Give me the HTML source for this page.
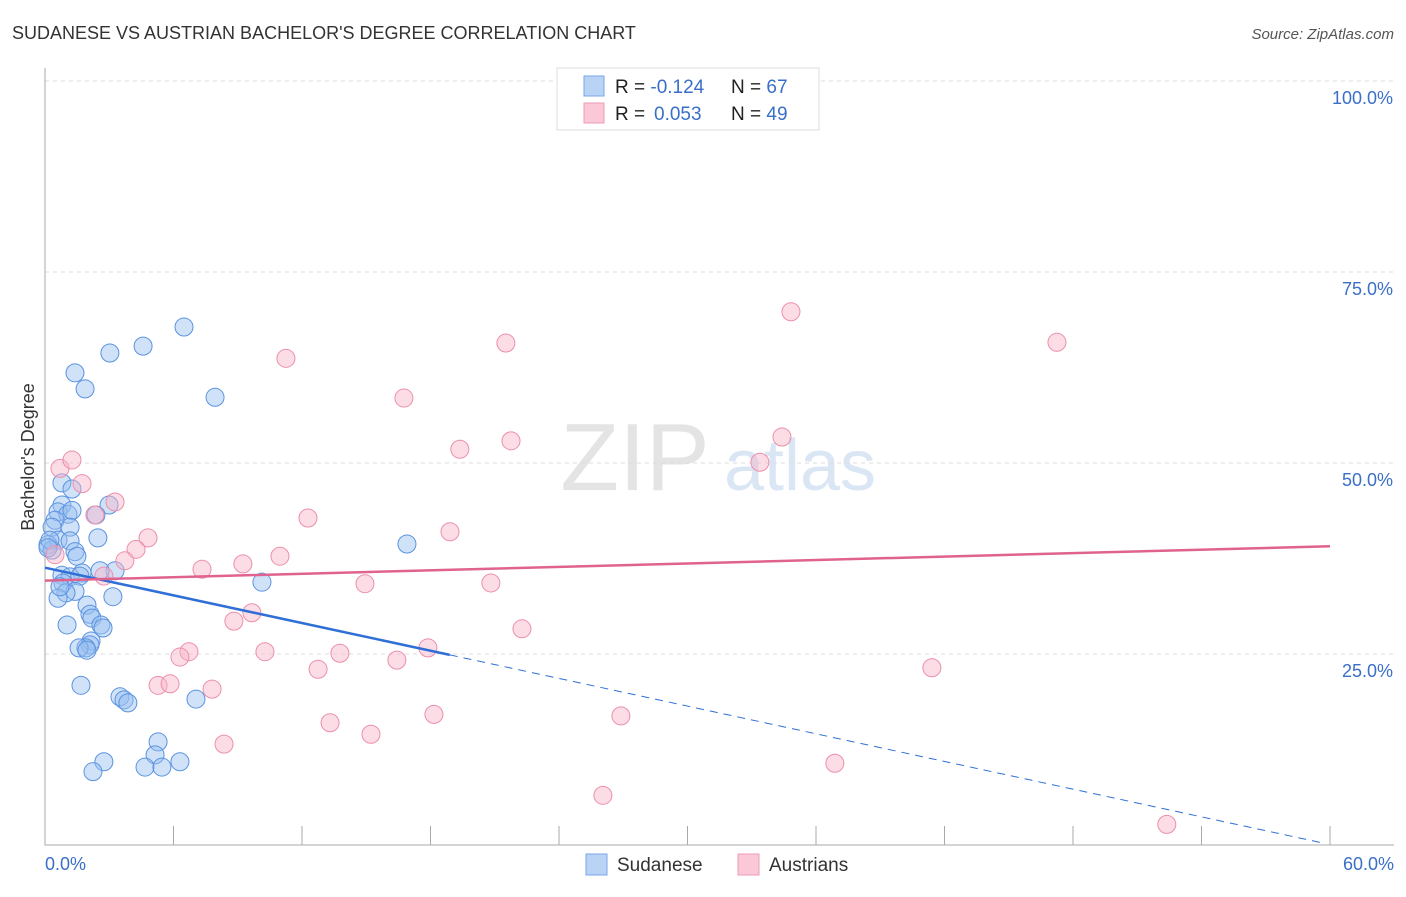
<!DOCTYPE html>
<html><head><meta charset="utf-8"><style>
body{margin:0;background:#fff;font-family:"Liberation Sans",sans-serif}
svg text{font-family:"Liberation Sans",sans-serif}
</style></head><body>
<svg id="chart" width="1406" height="892" viewBox="0 0 1406 892">
<text x="12" y="39" font-size="18" fill="#333">SUDANESE VS AUSTRIAN BACHELOR'S DEGREE CORRELATION CHART</text>
<text x="1394" y="39" font-size="15" fill="#555" font-style="italic" text-anchor="end">Source: ZipAtlas.com</text>
<g><text x="635" y="490" font-size="96" fill="#e4e4e4" font-family="Liberation Serif" text-anchor="middle">ZIP</text><text x="800" y="490" font-size="72" fill="#dbe6f5" text-anchor="middle">atlas</text></g>
<g id="grid"></g>
<g id="axes"></g>
<g id="marks"></g>
<text transform="translate(34,457) rotate(-90)" font-size="18" fill="#333" text-anchor="middle">Bachelor's Degree</text>
<text x="45" y="870" font-size="18" fill="#3a6fc8">0.0%</text>
<text x="1394" y="870" font-size="18" fill="#3a6fc8" text-anchor="end">60.0%</text>
<g>
<rect x="557" y="68" width="262" height="62" fill="#fff" stroke="#ddd"/>
<rect x="584" y="76" width="20" height="20" fill="#b9d3f5" stroke="#7aa6e6"/>
<rect x="584" y="103" width="20" height="20" fill="#fbc8d7" stroke="#ee9cb6"/>
<text x="615" y="93" font-size="19" fill="#222">R = <tspan fill="#3a6fc8">-0.124</tspan><tspan x="731">N = </tspan><tspan fill="#3a6fc8">67</tspan></text>
<text x="615" y="120" font-size="19" fill="#222">R = <tspan fill="#3a6fc8" x="654">0.053</tspan><tspan x="731">N = </tspan><tspan fill="#3a6fc8">49</tspan></text>
</g>
<g>
<rect x="586" y="854" width="21" height="21" fill="#b9d3f5" stroke="#7aa6e6"/>
<text x="617" y="871" font-size="19" fill="#333">Sudanese</text>
<rect x="738" y="854" width="21" height="21" fill="#fbc8d7" stroke="#ee9cb6"/>
<text x="769" y="871" font-size="19" fill="#333">Austrians</text>
</g>
</svg>
<script>
const yTicks=[25,50,75,100];
const yTickLabels=["25.0%","50.0%","75.0%","100.0%"];
const xTicks=[0,6,12,18,24,30,36,42,48,54,60];
const sudX=[6.49,4.58,3.03,1.40,1.87,7.94,0.79,1.26,0.79,2.99,0.61,1.07,2.38,1.26,0.47,0.33,1.17,2.47,0.61,1.17,0.14,0.33,1.40,1.49,16.9,3.27,2.57,1.73,0.79,1.17,1.63,0.84,1.40,0.98,0.61,3.17,1.96,2.10,2.19,2.61,2.71,10.13,1.03,2.15,2.10,1.91,1.59,1.96,1.68,3.50,3.69,3.87,7.05,5.28,5.14,4.67,5.46,6.30,2.75,2.24,0.23,0.14,0.70];
const sudY=[67.8,65.3,64.4,61.8,59.7,58.6,47.4,46.6,44.5,44.5,43.6,43.3,43.2,43.8,42.5,41.6,41.6,40.2,39.9,39.8,39.3,38.6,38.4,37.8,39.4,35.9,35.9,35.6,35.3,35.1,35.2,34.3,33.2,33.0,32.3,32.5,31.4,30.2,29.7,28.8,28.4,34.4,28.8,26.7,26.2,25.8,25.8,25.5,20.9,19.4,19.0,18.6,19.1,13.5,11.8,10.2,10.2,10.9,10.9,9.6,39.9,38.9,33.8];
const ausX=[27.92,34.83,11.25,21.52,47.25,16.76,19.37,21.76,34.41,33.38,0.70,1.26,1.73,3.27,2.33,4.81,4.25,3.73,18.91,12.28,10.97,9.24,7.33,2.75,14.94,20.82,0.47,8.82,9.66,22.27,17.88,10.27,6.72,6.30,13.77,16.43,12.75,41.41,5.28,5.84,7.80,18.16,26.89,13.31,15.22,8.36,36.88,26.05,52.38];
const ausY=[100.1,69.8,63.7,65.7,65.8,58.5,51.8,52.9,53.4,50.1,49.3,50.4,47.3,44.9,43.2,40.2,38.7,37.2,41.0,42.8,37.8,36.8,36.1,35.2,34.2,34.3,38.0,29.3,30.4,28.3,25.8,25.3,25.3,24.6,25.1,24.2,23.0,23.2,20.9,21.1,20.4,17.1,16.9,16.0,14.5,13.2,10.7,6.5,2.7];
const sudTrend=[36.3,-0.604];
const sudSolidEnd=18.9;
const ausTrend=[34.6,0.075];
const NS="http://www.w3.org/2000/svg";
const X=v=>45+v*(1285/60), Y=v=>845-v*7.64;
function mk(tag,at,parent){const e=document.createElementNS(NS,tag);for(const k in at)e.setAttribute(k,at[k]);document.getElementById(parent).appendChild(e);return e;}
yTicks.forEach((t,i)=>{
 const l=mk('line',{x1:45,x2:1394,y1:Y(t),y2:Y(t),stroke:'#ddd','stroke-dasharray':'4,4'},'grid');
 
 
 const tx=mk('text',{x:1393,y:Y(t)+23,'font-size':18,fill:'#3a6fc8','text-anchor':'end'},'grid');tx.textContent=yTickLabels[i];
 
 
});
const ax=mk('path',{d:'M45,68V845H1394',fill:'none',stroke:'#aaa'},'axes');


xTicks.forEach(t=>{const l=mk('line',{x1:X(t),x2:X(t),y1:826,y2:845,stroke:'#aaa'},'axes');
 
 });
sudX.forEach((v,i)=>{const c=mk('circle',{cx:X(v),cy:Y(sudY[i]),r:9,fill:'rgba(150,190,240,0.45)',stroke:'#5b93e0','stroke-width':1},'marks');
 
 });
ausX.forEach((v,i)=>{const c=mk('circle',{cx:X(v),cy:Y(ausY[i]),r:9,fill:'rgba(248,180,200,0.45)',stroke:'#ec8fac','stroke-width':1},'marks');
 
 });
const sb=sudTrend[0],sm=sudTrend[1],xe=sudSolidEnd;
const s1=mk('line',{x1:X(0),y1:Y(sb),x2:X(xe),y2:Y(sb+sm*xe),stroke:'#2f6fd6','stroke-width':2.5},'marks');


const s2=mk('line',{x1:X(xe),y1:Y(sb+sm*xe),x2:X(59.8),y2:Y(sb+sm*59.8),stroke:'#2f6fd6','stroke-width':1,'stroke-dasharray':'8,6'},'marks');


const a1=mk('line',{x1:X(0),y1:Y(ausTrend[0]),x2:X(60),y2:Y(ausTrend[0]+ausTrend[1]*60),stroke:'#e0628e','stroke-width':2.5},'marks');


</script>
</body></html>
